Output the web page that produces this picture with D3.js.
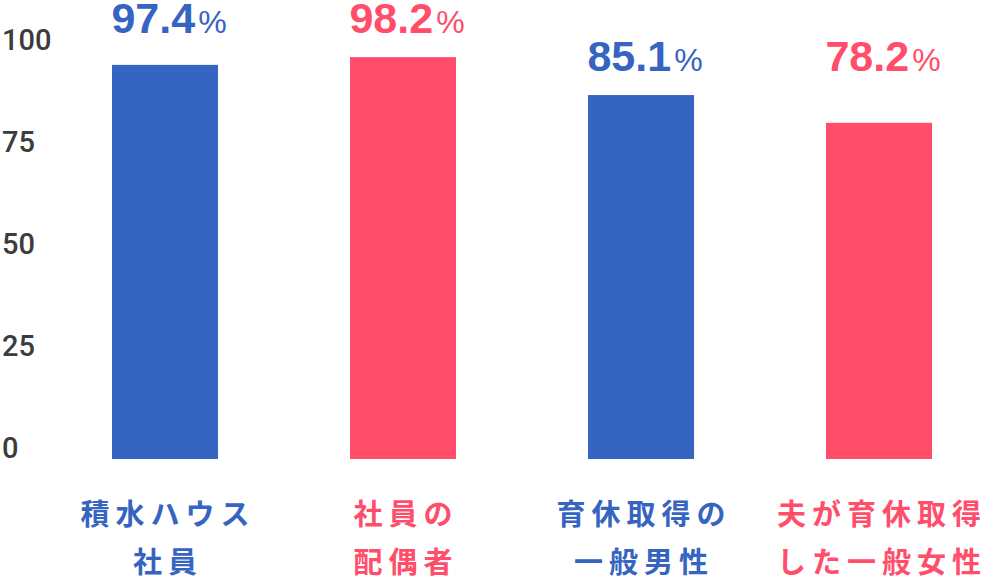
<!DOCTYPE html>
<html><head><meta charset="utf-8">
<script src="https://cdn.jsdelivr.net/npm/d3@7"></script>
<style>html,body{margin:0;padding:0;background:#fff;}svg{display:block;}</style>
</head><body>
<svg id="chart" width="991" height="577"></svg>
<script>
// Data
const categories = [["積水ハウス","社員"],["社員の","配偶者"],["育休取得の","一般男性"],["夫が育休取得","した一般女性"]];
const barValues = [96.6, 98.5, 89.2, 82.4];          // bar heights read against the axis
const valueLabels = ["97.4", "98.2", "85.1", "78.2"]; // printed percentages
const tickValues = [0, 25, 50, 75, 100];
const seriesColors = ["#3564C1", "#FF4D6A", "#3564C1", "#FF4D6A"];

const svg = d3.select("#chart");
const x = d3.scaleBand().domain(d3.range(categories.length)).range([46, 998]).paddingInner(0.5546).paddingOuter(0.2773);
const y = d3.scaleLinear().domain([0, 100]).range([459, 51]);

// y axis labels
const yAxis = d3.axisLeft(y).tickValues(tickValues).tickSize(0).tickPadding(0);
const ga = svg.append("g").call(yAxis);
ga.select(".domain").remove();
ga.selectAll(".tick text")
  .attr("x", 2).attr("dy", null).attr("y", -12)
  .attr("text-anchor", "start").attr("dominant-baseline", "central")
  .attr("fill", "#3c3c3c").attr("font-size", 29).attr("font-weight", 500)
  .attr("font-family", "Roboto, 'Liberation Sans', sans-serif");

// bars
svg.selectAll("rect.bar").data(barValues).join("rect")
  .attr("class", "bar")
  .attr("x", (d, i) => x(i)).attr("width", x.bandwidth())
  .attr("y", d => y(d)).attr("height", d => y(0) - y(d))
  .attr("fill", (d, i) => seriesColors[i]);

// value labels
const labelY = i => { const p = Math.floor(i / 2) * 2; return y(Math.max(barValues[p], barValues[p + 1])) - 24; };
const vt = svg.selectAll("text.val").data(valueLabels).join("text")
  .attr("class", "val")
  .attr("x", (d, i) => x(i) + x.bandwidth() / 2 + 4)
  .attr("y", (d, i) => labelY(i))
  .attr("text-anchor", "middle")
  .attr("fill", (d, i) => seriesColors[i])
  .attr("font-family", "'Liberation Sans', Arial, sans-serif");
vt.append("tspan").attr("font-size", 43).attr("font-weight", "bold").text(d => d);
vt.append("tspan").attr("font-size", 32).attr("dx", 3).text("%");

// category labels
const ls = 6;
categories.forEach((lines, i) => {
  lines.forEach((ln, j) => {
    svg.append("text")
      .attr("x", x(i) + x.bandwidth() / 2 + ls / 2)
      .attr("y", 512 + j * 48)
      .attr("dominant-baseline", "central")
      .attr("text-anchor", "middle")
      .attr("fill", seriesColors[i])
      .attr("font-family", "'Noto Sans CJK JP', sans-serif")
      .attr("font-weight", "bold")
      .attr("font-size", 29)
      .attr("letter-spacing", ls)
      .text(ln);
  });
});
</script>
</body></html>
